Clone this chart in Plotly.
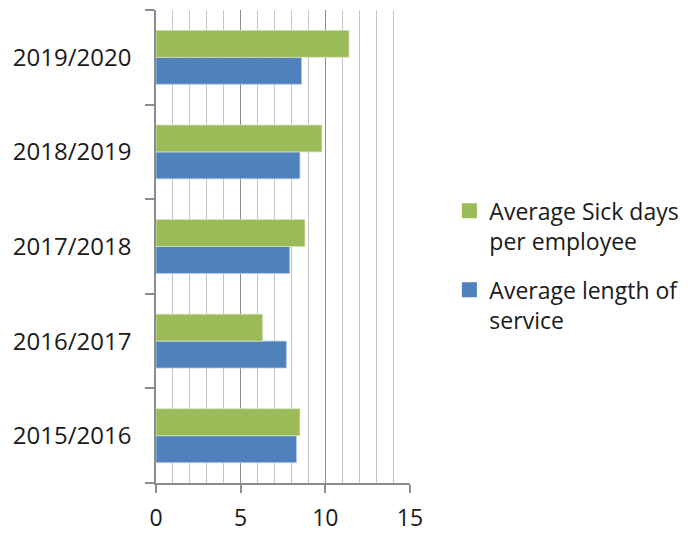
import plotly.graph_objects as go

years = ["2015/2016", "2016/2017", "2017/2018", "2018/2019", "2019/2020"]
length_of_service = [8.3, 7.7, 7.9, 8.5, 8.6]
sick_days = [8.5, 6.3, 8.8, 9.8, 11.4]
x_ticks = [0, 5, 10, 15]

GREEN = "#9BBB59"
BLUE = "#4F81BD"
FONT = "Open Sans"
TEXT = "#1a1a1a"

fig = go.Figure()
fig.add_trace(go.Bar(
    y=years, x=length_of_service, orientation="h",
    marker=dict(color=BLUE, line=dict(color="#B9CDE5", width=0.8)),
    showlegend=False,
))
fig.add_trace(go.Bar(
    y=years, x=sick_days, orientation="h",
    marker=dict(color=GREEN, line=dict(color="#D7E4BD", width=0.8)),
    showlegend=False,
))

# legend entries with larger square swatches
for name, color, grp in [
    ("Average Sick days<br>per employee", GREEN, "sick"),
    ("Average length of<br>service", BLUE, "service"),
]:
    fig.add_trace(go.Scatter(
        x=[None], y=[None], mode="markers", name=name, legendgroup=grp,
        marker=dict(symbol="square", size=15, color=color),
    ))

fig.update_layout(
    width=699, height=533,
    margin=dict(l=156, r=289, t=10, b=50),
    paper_bgcolor="white", plot_bgcolor="white",
    barmode="group", bargap=0.43, bargroupgap=0,
    font=dict(family=FONT, size=23, color=TEXT),
    showlegend=True,
    legend=dict(
        x=1.155, xanchor="left", y=0.46, yanchor="middle",
        traceorder="grouped", font=dict(size=23, color=TEXT),
        tracegroupgap=16, itemwidth=30, valign="top",
    ),
)

fig.update_xaxes(
    range=[0, 15], tickvals=x_ticks, ticktext=[str(v) for v in x_ticks],
    showgrid=True, gridcolor="#8C8C8C", gridwidth=1.2,
    minor=dict(dtick=1, showgrid=True, gridcolor="#C4C4C4", gridwidth=1.2),
    showline=True, linecolor="#8C8C8C", linewidth=1.5,
    ticks="outside", ticklen=8, tickcolor="#8C8C8C", tickwidth=1.5,
    tickfont=dict(size=23), ticklabelstandoff=6, automargin=False,
    zeroline=False, fixedrange=True,
)
fig.update_yaxes(
    categoryorder="array", categoryarray=years,
    showline=True, linecolor="#8C8C8C", linewidth=1.5,
    ticks="outside", tickson="boundaries", ticklen=9,
    tickcolor="#8C8C8C", tickwidth=1.5,
    tickfont=dict(size=24), ticklabelstandoff=18, automargin=False,
    showgrid=False, fixedrange=True,
)

fig.write_html("out.html")
